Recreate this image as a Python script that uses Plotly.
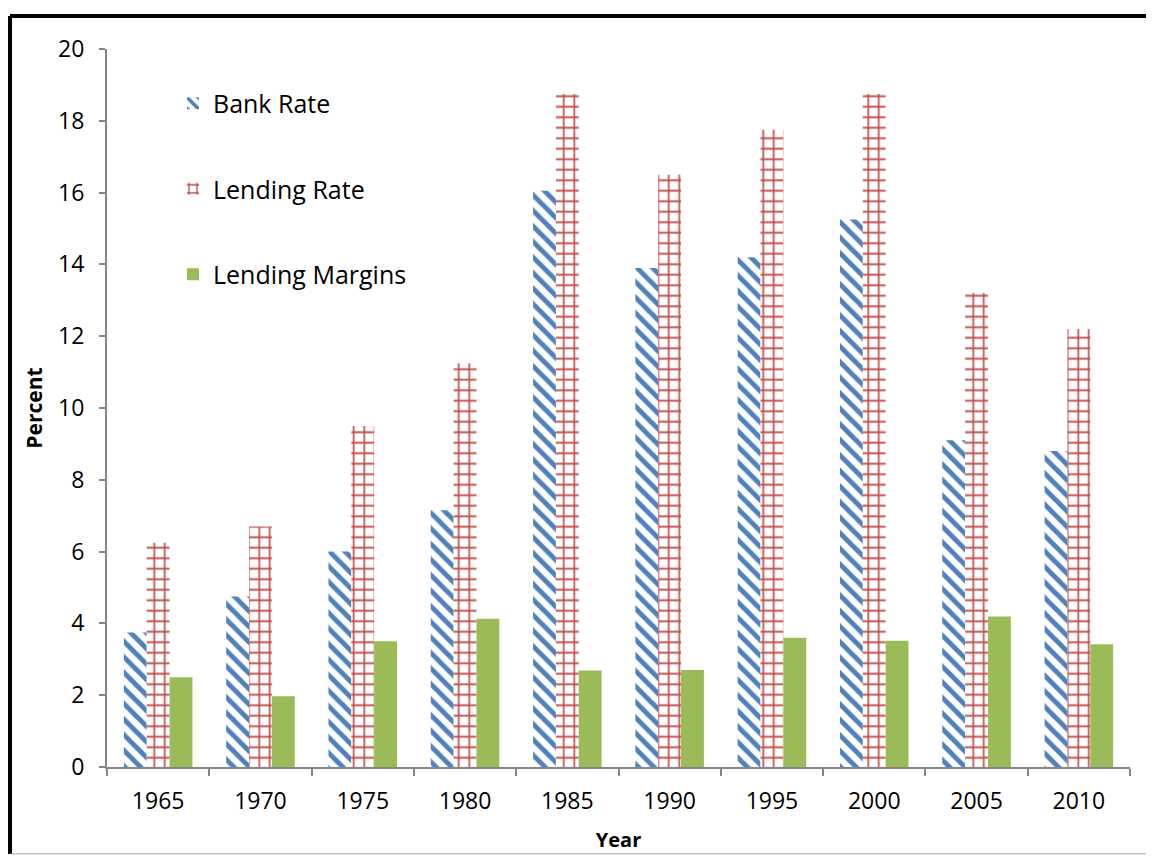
import plotly.graph_objects as go

years = ["1965", "1970", "1975", "1980", "1985", "1990", "1995", "2000", "2005", "2010"]
bank_rate = [3.75, 4.75, 6.0, 7.15, 16.05, 13.9, 14.2, 15.25, 9.1, 8.8]
lending_rate = [6.25, 6.7, 9.5, 11.25, 18.75, 16.5, 17.75, 18.75, 13.2, 12.2]
lending_margins = [2.5, 1.97, 3.5, 4.13, 2.69, 2.7, 3.6, 3.52, 4.19, 3.42]
y_ticks = [0, 2, 4, 6, 8, 10, 12, 14, 16, 18, 20]

FONT = "Open Sans"

fig = go.Figure()
fig.add_trace(go.Bar(
    x=years, y=bank_rate, name="Bank Rate", legendgroup="a",
    marker=dict(color="white", line=dict(width=0),
                pattern=dict(shape="\\", fgcolor="#4F81BD", bgcolor="white",
                             size=11, solidity=0.45, fillmode="replace")),
))
fig.add_trace(go.Bar(
    x=years, y=lending_rate, name="Lending Rate", legendgroup="b",
    marker=dict(color="white", line=dict(width=0),
                pattern=dict(shape="+", fgcolor="#C0504D", bgcolor="white",
                             size=10.5, solidity=0.3, fillmode="replace")),
))
fig.add_trace(go.Bar(
    x=years, y=lending_margins, name="Lending Margins", legendgroup="c",
    marker=dict(color="#9BBB59", line=dict(width=0)),
))

fig.update_layout(
    width=1146, height=848,
    margin=dict(l=99, r=24, t=41, b=89),
    paper_bgcolor="white", plot_bgcolor="white",
    barmode="group", bargap=0.33, bargroupgap=0,
    font=dict(family=FONT, size=23, color="black"),
    showlegend=True,
    legend=dict(x=0.0645, y=0.956, xanchor="left", yanchor="top",
                font=dict(size=25, family=FONT), tracegroupgap=50,
                bgcolor="rgba(0,0,0,0)"),
    xaxis=dict(
        type="category", showline=True, linecolor="#868686", linewidth=2,
        ticks="outside", tickson="boundaries", ticklen=7, tickcolor="#868686",
        tickwidth=2, showgrid=False, ticklabelstandoff=12, automargin=False,
        tickfont=dict(size=23, family=FONT),
        title=dict(text="<b>Year</b>", font=dict(size=20, family=FONT), standoff=18),
    ),
    yaxis=dict(
        range=[0, 20], tickvals=y_ticks, showline=True, linecolor="#868686",
        linewidth=2, ticks="outside", ticklen=6, tickcolor="#868686", tickwidth=2,
        showgrid=False, zeroline=False, ticklabelstandoff=10, automargin=False,
        tickfont=dict(size=23, family=FONT),
        title=dict(text="<b>Percent</b>", font=dict(size=21, family=FONT), standoff=10),
    ),
    shapes=[
        dict(type="line", xref="paper", yref="paper", x0=-0.0948, x1=1.1,
             y0=1.046, y1=1.046, line=dict(color="black", width=4)),
        dict(type="line", xref="paper", yref="paper", x0=-0.0948, x1=-0.0948,
             y0=1.046, y1=-0.121, line=dict(color="black", width=4)),
        dict(type="line", xref="paper", yref="paper", x0=-0.0948, x1=1.1,
             y0=-0.121, y1=-0.121, line=dict(color="#A0A0A0", width=1)),
    ],
)

fig.write_html("out.html")
